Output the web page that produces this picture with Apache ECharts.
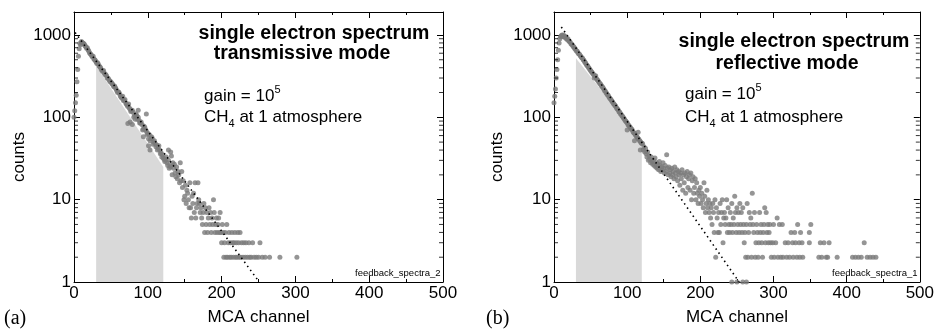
<!DOCTYPE html>
<html>
<head>
<meta charset="utf-8">
<script src="https://cdn.jsdelivr.net/npm/echarts@6/dist/echarts.min.js"></script>
<style>
  html, body { margin: 0; padding: 0; background: #fff; }
  #chart { width: 937px; height: 332px; }
</style>
</head>
<body>
<div id="chart"></div>
<script>
const FONT = '"Liberation Sans", Arial, sans-serif';

// axis ticks
const xTicks = [0, 100, 200, 300, 400, 500];
const yMinorTicks = [2, 3, 4, 5, 6, 7, 8, 9, 20, 30, 40, 50, 60, 70, 80, 90, 200, 300, 400, 500, 600, 700, 800, 900];

// (a) transmissive mode: counts for channel 0..131, then extra [channel, counts]
const leftHead = [100, 120, 150, 185, 270, 380, 550, 680, 790, 760,
  830, 810, 800, 790, 770, 740, 720, 690, 700, 660,
  640, 610, 590, 580, 560, 540, 550, 510, 500, 490,
  470, 450, 460, 440, 420, 410, 400, 380, 370, 360,
  370, 345, 330, 330, 320, 300, 300, 290, 280, 270,
  270, 260, 255, 245, 235, 240, 230, 220, 210, 200,
  205, 200, 190, 180, 175, 170, 180, 160, 160, 165,
  150, 145, 140, 135, 145, 130, 125, 118, 120, 122,
  115, 100, 105, 95, 110, 105, 95, 100, 92, 85,
  85, 88, 82, 70, 72, 78, 75, 70, 68, 62,
  64, 55, 62, 52, 55, 58, 56, 47, 50, 52,
  48, 44, 46, 40, 42, 45, 40, 36, 37, 33,
  35, 32, 31, 29, 30, 33, 28, 26, 30, 24,
  26, 25];
const leftExtra = [[73, 84], [76, 88], [79, 82], [87, 122], [98, 110], [128, 40], [131, 38], [103, 40], [94, 58], [101, 45],
  [132, 34], [133, 20], [134, 28], [135, 24], [136, 27], [137, 21], [138, 19], [139, 25], [140, 18], [141, 22],
  [142, 20], [143, 16], [144, 28], [145, 17], [146, 22], [147, 14], [148, 17], [149, 10], [150, 11], [151, 15],
  [152, 9], [153, 13], [154, 12], [155, 10], [156, 8], [157, 16], [158, 8], [159, 6], [160, 11], [161, 9],
  [162, 12], [163, 7], [164, 16], [165, 6], [166, 8], [167, 9], [168, 16], [169, 10], [170, 9], [171, 7],
  [172, 8], [173, 6], [174, 5], [175, 7], [176, 9], [177, 4], [178, 8], [179, 5], [180, 7], [181, 4],
  [182, 6], [183, 8], [184, 5], [185, 7], [186, 4], [187, 6], [188, 5], [189, 10], [190, 7], [191, 4],
  [192, 5], [193, 6], [194, 4], [195, 5], [196, 6], [197, 4], [198, 7], [199, 4], [200, 3], [201, 5],
  [202, 4], [203, 2], [204, 3], [205, 4], [206, 2], [207, 5], [208, 2], [209, 3], [210, 4], [211, 2],
  [212, 3], [213, 2], [214, 4], [215, 3], [216, 2], [217, 3], [218, 4], [219, 2], [220, 3], [221, 2],
  [222, 4], [223, 3], [224, 2], [225, 4], [226, 2], [227, 3], [229, 2], [230, 3], [232, 2], [233, 3],
  [235, 2], [237, 3], [238, 2], [240, 2], [242, 3], [244, 2], [247, 2], [250, 2], [252, 3], [255, 2],
  [259, 2], [265, 2], [279, 2], [302, 2]];
const leftFit = [[1.5, 1070], [251, 1]];
const leftShade = [[30, 420], [121, 25]];

// (b) reflective mode
const rightHead = [150, 180, 220, 300, 380, 500, 650, 800, 900, 950,
  980, 1000, 960, 1000, 950, 930, 960, 900, 880, 900,
  850, 830, 820, 790, 770, 760, 730, 720, 690, 680,
  650, 640, 630, 600, 590, 580, 560, 545, 530, 520,
  500, 490, 470, 460, 440, 430, 420, 405, 395, 380,
  370, 360, 350, 340, 330, 300, 315, 320, 295, 285,
  280, 270, 262, 255, 250, 240, 235, 228, 220, 212,
  208, 200, 195, 188, 185, 178, 172, 168, 163, 158,
  155, 148, 145, 140, 138, 132, 128, 125, 122, 116,
  115, 110, 108, 104, 102, 98, 96, 92, 90, 88,
  86, 82, 80, 78, 76, 73, 72, 70, 67, 65,
  64, 62, 60, 58, 57, 55, 54, 52, 51, 49,
  48];
const rightExtra = [[110, 52], [100, 70], [118, 40], [115, 66],
  [121, 48], [122, 40], [123, 44], [124, 38], [125, 42], [126, 36], [127, 33], [128, 38], [129, 30], [130, 34],
  [131, 31], [132, 28], [133, 33], [134, 29], [135, 27], [136, 30], [137, 26], [138, 32], [139, 25], [140, 28],
  [141, 24], [142, 27], [143, 23], [144, 29], [145, 26], [146, 22], [147, 25], [148, 23], [149, 28], [150, 24],
  [151, 21], [152, 26], [153, 22], [154, 35], [155, 24], [156, 20], [157, 25], [158, 21], [159, 23], [160, 19],
  [161, 24], [162, 20], [163, 22], [164, 18], [165, 25], [166, 21], [167, 19], [168, 23], [169, 17], [170, 22],
  [171, 20], [172, 15], [173, 21], [174, 18], [175, 23], [176, 13], [177, 20], [178, 16], [179, 21], [180, 12],
  [181, 19], [182, 22], [183, 14], [184, 18], [185, 20], [186, 13], [187, 21], [188, 10], [189, 17], [190, 19],
  [191, 12], [192, 14], [193, 18], [194, 10], [195, 16], [196, 12], [197, 9], [198, 13], [199, 11], [200, 14],
  [201, 9], [202, 12], [203, 10], [204, 8], [205, 16], [206, 11], [207, 7], [208, 9], [209, 13], [210, 8],
  [211, 10], [212, 7], [213, 9], [214, 6], [215, 8], [216, 5], [217, 9], [218, 7], [219, 4], [220, 10],
  [221, 2], [222, 8], [223, 6], [224, 4], [225, 7], [226, 4], [227, 9], [228, 5], [229, 7], [230, 10],
  [231, 3], [232, 6], [233, 7], [234, 5], [235, 6], [236, 10], [237, 4], [238, 8], [239, 5], [240, 4],
  [241, 7], [242, 5], [243, 9], [244, 4], [245, 6], [246, 5], [247, 11], [248, 7], [249, 4], [250, 8],
  [251, 5], [252, 7], [253, 4], [254, 9], [255, 5], [256, 7], [257, 4], [258, 8], [259, 5], [260, 3],
  [261, 4], [262, 2], [263, 5], [264, 9], [265, 2], [266, 4], [267, 7], [268, 5], [269, 6], [270, 2],
  [271, 12], [272, 5], [273, 4], [274, 7], [275, 2], [276, 3], [277, 5], [278, 4], [279, 2], [280, 3],
  [281, 7], [282, 4], [283, 5], [284, 3], [285, 2], [286, 4], [287, 5], [288, 8], [289, 3], [290, 7],
  [291, 4], [292, 5], [293, 3], [294, 4], [295, 5], [296, 3], [297, 2], [299, 3], [300, 5], [301, 2],
  [303, 3], [305, 6], [306, 2], [308, 5], [310, 2], [312, 5], [313, 2], [316, 3], [318, 2], [320, 3],
  [322, 2], [324, 4], [326, 3], [327, 2], [329, 4], [330, 3], [332, 2], [333, 5], [335, 3], [336, 2],
  [337, 4], [339, 3], [340, 2], [349, 3], [349, 4], [351, 5], [362, 2], [364, 3], [366, 2], [369, 3],
  [372, 2], [374, 2], [376, 3], [387, 2], [408, 2], [412, 2], [416, 2], [420, 2], [424, 3], [428, 2],
  [432, 2], [436, 2], [440, 2], [243, 1], [250, 1], [258, 1], [263, 1]];
const rightFit = [[10, 1250], [253, 1]];
const rightShade = [[30, 520], [120, 52]];

const chart = echarts.init(document.getElementById('chart'), null, { renderer: 'canvas' });

function xAxisFor(grid, bottom) {
  return {
    gridIndex: grid,
    type: 'value',
    position: bottom ? 'bottom' : 'top',
    min: 0, max: 500, interval: 100,
    name: bottom ? 'MCA channel' : '',
    nameLocation: 'middle',
    nameGap: 27,
    nameTextStyle: { fontSize: 17, color: '#000', fontFamily: FONT },
    axisLine: { onZero: false, lineStyle: { color: '#000', width: 1 } },
    axisTick: { inside: true, length: 6, lineStyle: { color: '#000' } },
    minorTick: { show: true, splitNumber: 2, length: 3, lineStyle: { color: '#000' } },
    axisLabel: {
      show: bottom, fontSize: 17, color: '#000', fontFamily: FONT, margin: 3,
      formatter: v => xTicks.indexOf(v) >= 0 ? String(v) : ''
    },
    splitLine: { show: false }
  };
}
function yAxisFor(grid, left) {
  return {
    gridIndex: grid,
    type: 'log',
    logBase: 10,
    position: left ? 'left' : 'right',
    min: 1, max: 1900,
    axisLine: { onZero: false, lineStyle: { color: '#000', width: 1 } },
    axisTick: { inside: true, length: 6, lineStyle: { color: '#000' } },
    axisLabel: {
      show: left, fontSize: 17, color: '#000', fontFamily: FONT, margin: 3, showMaxLabel: false,
      formatter: v => String(Math.round(v))
    },
    splitLine: { show: false }
  };
}

function panelSeries(axis, head, extra, fit, shade) {
  const pts = head.map((v, i) => [i, v]).concat(extra);
  return [
    {
      type: 'line', xAxisIndex: axis * 2, yAxisIndex: axis * 2, data: shade,
      symbol: 'none', lineStyle: { width: 0 },
      areaStyle: { color: '#d9d9d9', opacity: 1, origin: 'start' }, z: 1
    },
    {
      type: 'scatter', xAxisIndex: axis * 2, yAxisIndex: axis * 2, data: pts,
      symbolSize: 5, itemStyle: { color: '#7a7a7a' }, z: 3
    },
    {
      type: 'line', xAxisIndex: axis * 2, yAxisIndex: axis * 2, data: fit,
      symbol: 'none', lineStyle: { color: '#000', width: 1.6, type: [1.5, 3.5] }, z: 4
    },
    {
      // minor ticks of the log axis, left side
      type: 'scatter', xAxisIndex: axis * 2, yAxisIndex: axis * 2,
      data: yMinorTicks.map(v => [0, v]), symbol: 'rect', symbolSize: [4, 1],
      symbolOffset: [2, 0], itemStyle: { color: '#000' }, clip: false, z: 5, silent: true
    },
    {
      // minor ticks, right side
      type: 'scatter', xAxisIndex: axis * 2, yAxisIndex: axis * 2,
      data: yMinorTicks.map(v => [500, v]), symbol: 'rect', symbolSize: [4, 1],
      symbolOffset: [-2, 0], itemStyle: { color: '#000' }, clip: false, z: 5, silent: true
    }
  ];
}

function txt(x, y, text, font, align, extra) {
  return Object.assign({
    type: 'text', x: x, y: y,
    style: { text: text, font: font, fill: '#000', align: align || 'left', verticalAlign: 'middle' }
  }, extra || {});
}
function richTxt(x, y, text) {
  return {
    type: 'text', x: x, y: y,
    style: {
      text: text, fill: '#000', align: 'left', verticalAlign: 'middle',
      rich: {
        n: { fontSize: 17, fontFamily: FONT, lineHeight: 24, verticalAlign: 'middle' },
        sup: { fontSize: 11, fontFamily: FONT, lineHeight: 11, verticalAlign: 'top' },
        sub: { fontSize: 11, fontFamily: FONT, lineHeight: 11, verticalAlign: 'bottom' }
      }
    }
  };
}

const option = {
  animation: false,
  backgroundColor: '#fff',
  grid: [
    { left: 74, top: 12, width: 369, height: 270 },
    { left: 554, top: 12, width: 367, height: 270 }
  ],
  xAxis: [xAxisFor(0, true), xAxisFor(0, false), xAxisFor(1, true), xAxisFor(1, false)],
  yAxis: [yAxisFor(0, true), yAxisFor(0, false), yAxisFor(1, true), yAxisFor(1, false)],
  series: panelSeries(0, leftHead, leftExtra, leftFit, leftShade)
    .concat(panelSeries(1, rightHead, rightExtra, rightFit, rightShade)),
  graphic: [
    txt(314, 34, 'single electron spectrum', 'bold 19.5px ' + FONT, 'center'),
    txt(302, 54, 'transmissive mode', 'bold 19.5px ' + FONT, 'center'),
    richTxt(204, 96, '{n|gain = 10}{sup|5}'),
    richTxt(204, 117, '{n|CH}{sub|4}{n| at 1 atmosphere}'),
    txt(355, 273, 'feedback_spectra_2', '9.5px ' + FONT, 'left'),
    txt(4, 319, '(a)', '20px "Liberation Serif", "Times New Roman", serif', 'left'),
    txt(19, 157, 'counts', '17px ' + FONT, 'center', { rotation: Math.PI / 2 }),

    txt(794, 42, 'single electron spectrum', 'bold 19.5px ' + FONT, 'center'),
    txt(787, 64, 'reflective mode', 'bold 19.5px ' + FONT, 'center'),
    richTxt(685, 94, '{n|gain = 10}{sup|5}'),
    richTxt(685, 117, '{n|CH}{sub|4}{n| at 1 atmosphere}'),
    txt(832, 273, 'feedback_spectra_1', '9.5px ' + FONT, 'left'),
    txt(486, 319, '(b)', '20px "Liberation Serif", "Times New Roman", serif', 'left'),
    txt(497, 157, 'counts', '17px ' + FONT, 'center', { rotation: Math.PI / 2 })
  ]
};
chart.setOption(option);
</script>
</body>
</html>
